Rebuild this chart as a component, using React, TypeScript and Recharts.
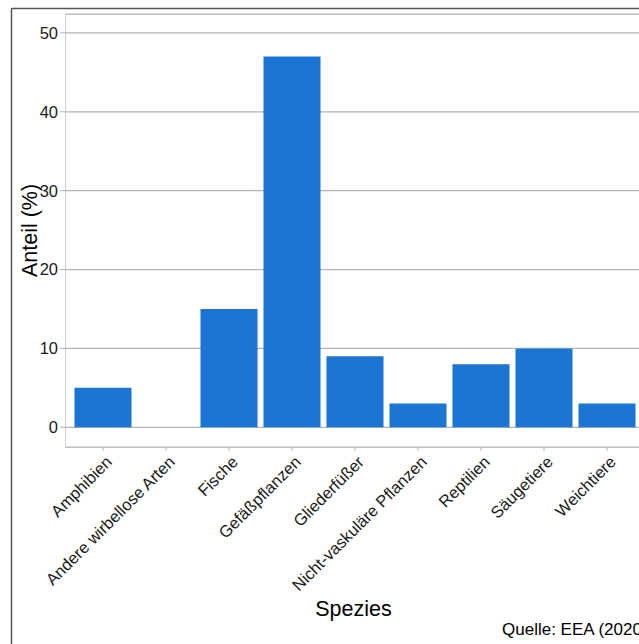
import { BarChart, Bar, XAxis, YAxis, CartesianGrid } from 'recharts'

const species = [
  'Amphibien',
  'Andere wirbellose Arten',
  'Fische',
  'Gefäßpflanzen',
  'Gliederfüßer',
  'Nicht-vaskuläre Pflanzen',
  'Reptilien',
  'Säugetiere',
  'Weichtiere',
]
const shares = [5, 0, 15, 47, 9, 3, 8, 10, 3]
const yTicks = [0, 10, 20, 30, 40, 50]

const data = species.map((name, i) => ({ name, share: shares[i] }))

const FONT = '"Liberation Sans", Arial, sans-serif'

const XTick = ({ x, y, payload }: any) => (
  <g transform={`translate(${x + 10},${y + 10})`}>
    <text textAnchor="end" transform="rotate(-45)" fontSize={16.5} fill="#1a1a1a" fontFamily={FONT}>
      {payload.value}
    </text>
  </g>
)

export default function App() {
  return (
    <div style={{ position: 'absolute', left: 0, top: 0, width: 639, height: 644, overflow: 'hidden', background: '#fff' }}>
      <svg width={639} height={644} style={{ position: 'absolute', left: 0, top: 0 }}>
        <line x1={11.5} y1={8.5} x2={639} y2={8.5} stroke="#555" strokeWidth={1.5} />
        <line x1={11.5} y1={8.5} x2={11.5} y2={644} stroke="#555" strokeWidth={1.5} />
        <rect x={65.5} y={14.5} width={580} height={433} fill="none" stroke="#cfcfcf" />
      </svg>
      <div style={{ position: 'absolute', left: 0, top: 0 }}>
        <BarChart
          width={700}
          height={644}
          data={data}
          margin={{ top: 14, right: 55, left: 0, bottom: 0 }}
          barCategoryGap={3}
        >
          <CartesianGrid vertical={false} stroke="#b5b5b5" strokeWidth={1.2} />
          <XAxis
            dataKey="name"
            interval={0}
            height={197}
            padding={{ left: 6.5, right: 6.5 }}
            axisLine={false}
            tickSize={4}
            tickLine={{ stroke: '#b5b5b5' }}
            tick={<XTick />}
          />
          <YAxis
            width={65}
            domain={[-2.5, 52.4]}
            ticks={yTicks}
            axisLine={false}
            tickSize={5}
            tickMargin={2}
            tickLine={{ stroke: '#b5b5b5' }}
            tick={{ fontSize: 16.5, fill: '#1a1a1a', fontFamily: FONT }}
          />
          <Bar dataKey="share" fill="#1A76D2" isAnimationActive={false} />
        </BarChart>
      </div>
      <svg width={639} height={644} style={{ position: 'absolute', left: 0, top: 0, pointerEvents: 'none' }}>
        <text
          x={0}
          y={0}
          transform="translate(36.5,230.5) rotate(-90)"
          textAnchor="middle"
          fontSize={21.5}
          fontFamily={FONT}
          fill="#000"
        >
          Anteil (%)
        </text>
        <text x={353.5} y={616} textAnchor="middle" fontSize={21.5} fontFamily={FONT} fill="#000">
          Spezies
        </text>
        <text x={502} y={635} fontSize={17} fontFamily={FONT} fill="#000">
          Quelle: EEA (2020)
        </text>
      </svg>
    </div>
  )
}
